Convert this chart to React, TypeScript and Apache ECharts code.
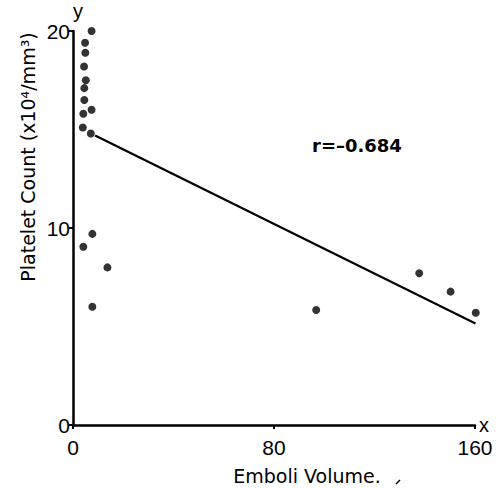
import React, { useEffect, useRef } from "react";
import * as echarts from "echarts";

const xTicks = [0, 80, 160];
const yTicks = [0, 10, 20];
// emboli volume, platelet count (x10^4/mm^3)
const pointsX = [7.4, 4.8, 4.9, 4.4, 5.1, 4.5, 4.5, 4.1, 7.4, 3.9, 7.1, 7.7, 4.1, 13.7, 7.7, 96.8, 137.8, 150.3, 160.3];
const pointsY = [20.0, 19.4, 18.9, 18.2, 17.5, 17.1, 16.5, 15.8, 16.0, 15.1, 14.8, 9.7, 9.05, 8.0, 6.0, 5.84, 7.7, 6.77, 5.7];
const fitX = [8.8, 160.2];
const fitY = [14.7, 5.15];
const rLabel = "r=–0.684";
const xName = "Emboli Volume.";
const yName = "Platelet Count (x10⁴/mm³)";

export default function App() {
  const ref = useRef<HTMLDivElement>(null);
  useEffect(() => {
    if (!ref.current) return;
    const chart = echarts.init(ref.current, null, { renderer: "svg" });
    const font = "'Liberation Sans', Arial, sans-serif";
    chart.setOption({
      animation: false,
      backgroundColor: "#fff",
      grid: { left: 73, right: 29, top: 31, bottom: 63 },
      xAxis: {
        type: "value",
        min: xTicks[0],
        max: xTicks[xTicks.length - 1],
        interval: 80,
        name: "x",
        nameLocation: "end",
        nameGap: 4,
        nameTextStyle: { color: "#000", fontSize: 20, fontFamily: font, verticalAlign: "middle", padding: [0, 0, 0, 0] },
        axisLine: { lineStyle: { color: "#000", width: 2.5 } },
        axisTick: { show: true, length: 4, lineStyle: { color: "#000", width: 2 } },
        axisLabel: { color: "#000", fontSize: 21, fontFamily: font, margin: 12 },
        splitLine: { show: false },
      },
      yAxis: {
        type: "value",
        min: yTicks[0],
        max: yTicks[yTicks.length - 1],
        interval: 10,
        name: "y",
        nameLocation: "end",
        nameGap: 4,
        nameTextStyle: { color: "#000", fontSize: 20, fontFamily: font, align: "left", padding: [0, 0, 0, 0] },
        axisLine: { lineStyle: { color: "#000", width: 2.5 } },
        axisTick: { show: true, length: 4, lineStyle: { color: "#000", width: 2 } },
        axisLabel: { color: "#000", fontSize: 21, fontFamily: font, margin: 3 },
        splitLine: { show: false },
      },
      series: [
        {
          type: "line",
          data: fitX.map((x, i) => [x, fitY[i]]),
          symbol: "none",
          lineStyle: { color: "#000", width: 2.2 },
          clip: false,
          z: 2,
        },
        {
          type: "scatter",
          data: pointsX.map((x, i) => [x, pointsY[i]]),
          symbolSize: 8,
          itemStyle: { color: "#000" },
          clip: false,
          z: 3,
        },
      ],
      graphic: [
        {
          type: "text",
          x: 312,
          y: 145,
          style: {
            text: rLabel,
            fill: "#000",
            font: `bold 18px 'DejaVu Sans', sans-serif`,
            verticalAlign: "middle",
          },
        },
        {
          type: "text",
          x: 28,
          y: 157,
          rotation: Math.PI / 2,
          style: {
            text: yName,
            fill: "#000",
            font: `19px 'DejaVu Sans', sans-serif`,
            align: "center",
            verticalAlign: "middle",
          },
        },
        {
          type: "text",
          x: 307,
          y: 476,
          style: {
            text: xName,
            fill: "#000",
            font: `19px 'DejaVu Sans', sans-serif`,
            align: "center",
            verticalAlign: "middle",
          },
        },
        {
          type: "line",
          shape: { x1: 396, y1: 484, x2: 400, y2: 480 },
          style: { stroke: "#000", lineWidth: 1.5 },
        },
      ],
    });
    return () => chart.dispose();
  }, []);
  return (
    <div
      ref={ref}
      style={{ position: "fixed", left: 0, top: 0, width: 504, height: 488, background: "#fff" }}
    />
  );
}
